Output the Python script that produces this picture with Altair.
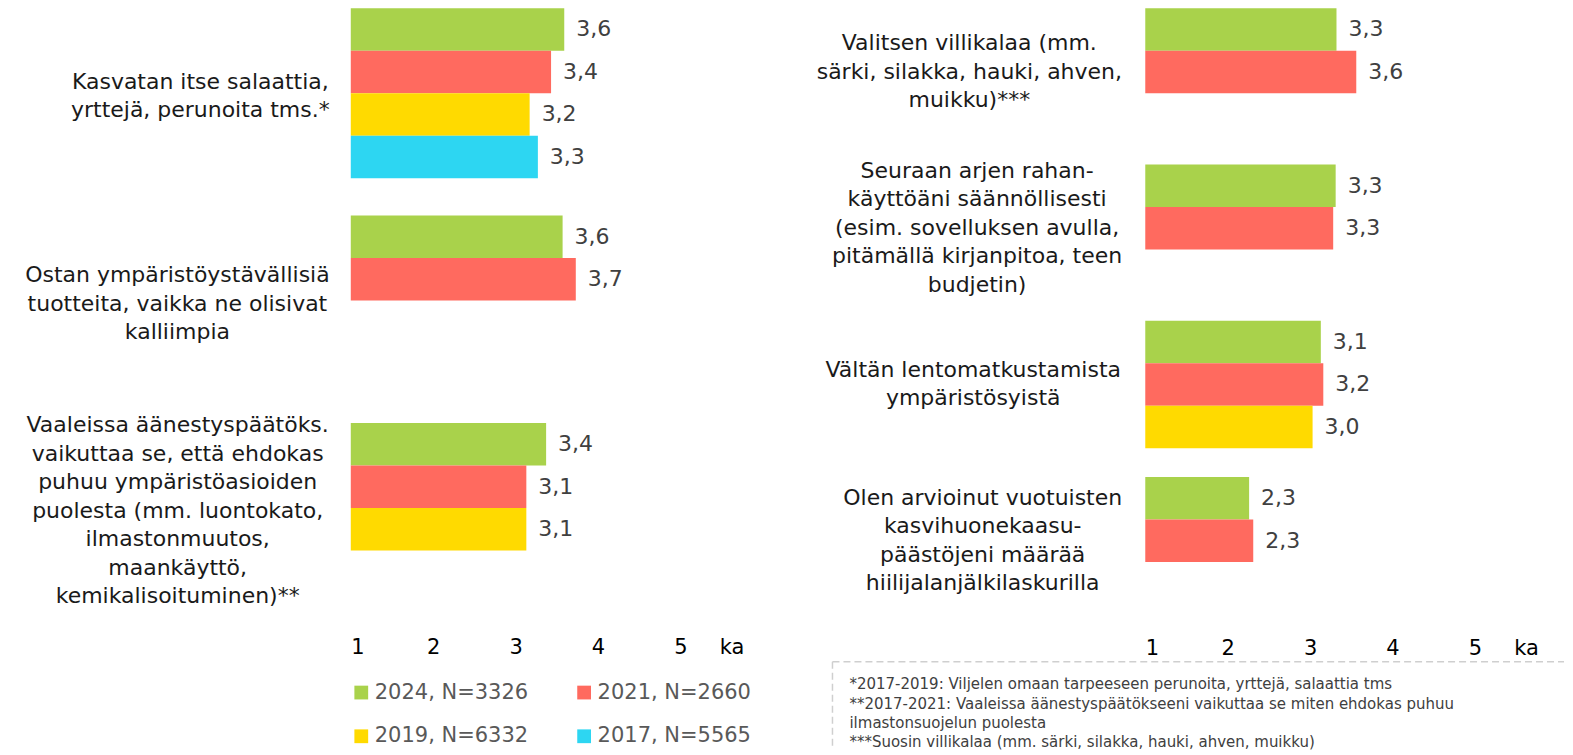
import altair as alt
import pandas as pd

FONT = "DejaVu Sans"

# ---------------- data ----------------
years = ["2024, N=3326", "2021, N=2660", "2019, N=6332", "2017, N=5565"]
year_colors = ["#A9D24B", "#FF6A5F", "#FFDA00", "#2DD6F2"]

left_categories = [
    "Kasvatan itse salaattia,|yrttejä, perunoita tms.*",
    "Ostan ympäristöystävällisiä|tuotteita, vaikka ne olisivat|kalliimpia",
    "Vaaleissa äänestyspäätöks.|vaikuttaa se, että ehdokas|puhuu ympäristöasioiden|"
    "puolesta (mm. luontokato,|ilmastonmuutos,|maankäyttö,|kemikalisoituminen)**",
]
left_2024 = [3.59, 3.57, 3.37]
left_2021 = [3.43, 3.73, 3.13]
left_2019 = [3.17, None, 3.13]
left_2017 = [3.27, None, None]

right_categories = [
    "Valitsen villikalaa (mm.|särki, silakka, hauki, ahven,|muikku)***",
    "Seuraan arjen rahan-|käyttöäni säännöllisesti|(esim. sovelluksen avulla,|pitämällä kirjanpitoa, teen|budjetin)",
    "Vältän lentomatkustamista|ympäristösyistä",
    "Olen arvioinut vuotuisten|kasvihuonekaasu-|päästöjeni määrää|hiilijalanjälkilaskurilla",
]
right_2024 = [3.32, 3.31, 3.13, 2.26]
right_2021 = [3.56, 3.28, 3.16, 2.31]
right_2019 = [None, None, 3.03, None]
right_2017 = [None, None, None, None]

axis_ticks = [1, 2, 3, 4, 5]
axis_unit_label = "ka"

footnotes = [
    "*2017-2019: Viljelen omaan tarpeeseen perunoita, yrttejä, salaattia tms",
    "**2017-2021: Vaaleissa äänestyspäätökseeni vaikuttaa se miten ehdokas puhuu",
    "ilmastonsuojelun puolesta",
    "***Suosin villikalaa (mm. särki, silakka, hauki, ahven, muikku)",
]

# ---------------- layout constants ----------------
X_MIN, X_MAX = 1, 5.85
PANEL_W = 400
PPU = PANEL_W / (X_MAX - X_MIN)
KA_POS = 5.62
CAT_FS = 22
CAT_LH = 28.5

# approximate DejaVu Sans advance widths (em) for text-block centring
_W = {" ": .318, ",": .318, ".": .318, "-": .361, "(": .390, ")": .390, "*": .500,
      "a": .613, "b": .635, "c": .550, "d": .635, "e": .615, "f": .352, "g": .635,
      "h": .634, "i": .278, "j": .278, "k": .579, "l": .278, "m": .974, "n": .634,
      "o": .612, "p": .635, "q": .635, "r": .411, "s": .521, "t": .392, "u": .634,
      "v": .592, "w": .818, "x": .592, "y": .592, "z": .525, "ä": .613, "ö": .612,
      "K": .656, "O": .787, "S": .635, "V": .684}


def text_w(s, size):
    return size * sum(_W.get(c, 0.62) for c in s)


def label_pos(cat, gap):
    w = max(text_w(line, CAT_FS) for line in cat.split("|"))
    return X_MIN - (gap + w / 2) / PPU


def long_df(cats, series):
    rows = []
    for yr, vals in zip(years, series):
        for c, v in zip(cats, vals):
            if v is not None:
                rows.append({"category": c, "year": yr, "value": v})
    return pd.DataFrame(rows)


def panel(cats, series, height, pad_inner, gap, tick_pad, legend, label_shift=0,
          extra=None, extent=None):
    bars_df = long_df(cats, series)
    lab_df = pd.DataFrame({"category": cats, "cx": [label_pos(c, gap) for c in cats]})

    if extent is not None:
        yaxis = alt.Axis(labels=False, ticks=False, domain=False, title=None, grid=False,
                         minExtent=extent, maxExtent=extent)
    else:
        yaxis = alt.Axis(labels=False, ticks=False, domain=False, title=None, grid=False)
    y = alt.Y("category:N", sort=cats,
              scale=alt.Scale(domain=cats, paddingInner=pad_inner, paddingOuter=0),
              axis=yaxis)
    yoff = alt.YOffset("year:N", sort=years,
                       scale=alt.Scale(domain=years, paddingInner=0, paddingOuter=0))
    x = alt.X("value:Q",
              scale=alt.Scale(domain=[X_MIN, X_MAX], nice=False, zero=False),
              axis=alt.Axis(values=axis_ticks + [KA_POS],
                            labelExpr=f"datum.value > 5.5 ? '{axis_unit_label}' : format(datum.value, 'd')",
                            grid=False, ticks=False, tickSize=0, domain=False, title=None,
                            labelFontSize=21, labelColor="#000000", labelPadding=tick_pad,
                            labelBaseline="middle", labelFont=FONT))
    color = alt.Color("year:N", scale=alt.Scale(domain=years, range=year_colors),
                      legend=legend)

    bars = alt.Chart(bars_df).mark_bar().encode(
        x=x, x2=alt.datum(1), y=y, yOffset=yoff, color=color)

    values = alt.Chart(bars_df).transform_calculate(
        lab="replace(format(datum.value, '.1f'), '.', ',')"
    ).mark_text(align="left", baseline="middle", dx=12, fontSize=22,
                color="#404040", font=FONT).encode(
        x="value:Q", y=y, yOffset=yoff, text="lab:N")

    labels = alt.Chart(lab_df).mark_text(
        align="center", baseline="middle", lineBreak="|", fontSize=CAT_FS,
        lineHeight=CAT_LH, color="#1a1a1a", font=FONT,
        dy={"expr": f"{label_shift} - (length(split(datum.category, '|')) - 1) * {CAT_LH / 2}"}
    ).encode(x="cx:Q", y=y, text="category:N")

    layers = [bars, values, labels]
    if extra:
        layers += extra
    return alt.layer(*layers).properties(width=PANEL_W, height=height)


legend = alt.Legend(orient="none", legendX=0, legendY=674, columns=2, direction="horizontal",
                    title=None, symbolType="square", symbolSize=190, symbolStrokeWidth=0,
                    labelFontSize=21, labelColor="#595959", labelFont=FONT,
                    columnPadding=45, rowPadding=22, labelOffset=3, padding=0)

one = pd.DataFrame({"note": ["|".join(footnotes)]})
note_text = alt.Chart(one).mark_text(
    align="left", baseline="middle", lineBreak="|", fontSize=15, lineHeight=19.4,
    color="#404040", font=FONT).encode(
    x=alt.value(-296), y=alt.value(676.5), text="note:N")
box_top = alt.Chart(one).mark_rule(color="#CFCFCF", strokeWidth=1.5, strokeDash=[7, 4]).encode(
    x=alt.value(-313), x2=alt.value(419), y=alt.value(654))
box_left = alt.Chart(one).mark_rule(color="#CFCFCF", strokeWidth=1.5, strokeDash=[7, 4]).encode(
    x=alt.value(-313), y=alt.value(654), y2=alt.value(738))

left = panel(left_categories, [left_2024, left_2021, left_2019, left_2017],
             height=585, pad_inner=0.1807, gap=21, tick_pad=55, legend=legend,
             label_shift=3, extent=343)
right = panel(right_categories, [right_2024, right_2021, right_2019, right_2017],
              height=596, pad_inner=0.1887, gap=23, tick_pad=45, legend=None,
              label_shift=0, extra=[box_top, box_left, note_text])

chart = alt.HConcatChart(hconcat=[left, right], spacing=395, bounds="flush",
                         padding=0).resolve_scale(color="independent").resolve_legend(
    color="independent").configure_view(stroke=None)

chart.save("out.html", embed_options={"renderer": "svg", "actions": False})
